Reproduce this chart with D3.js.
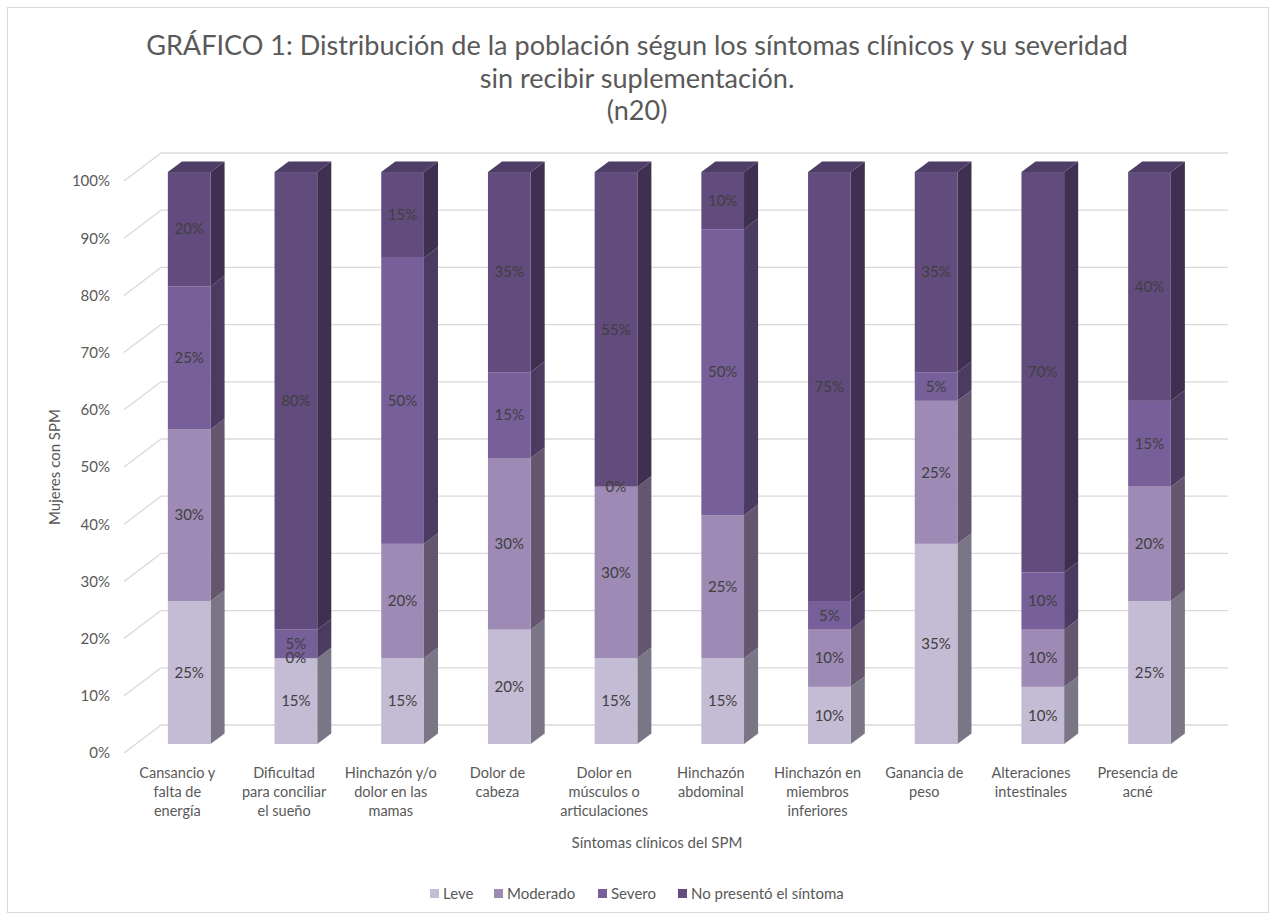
<!DOCTYPE html>
<html>
<head>
<meta charset="utf-8">
<script src="https://cdn.jsdelivr.net/npm/d3@7"></script>
<style>
  html, body { margin: 0; padding: 0; background: #ffffff; }
  svg { display: block; }
  text { font-family: "Lato", "Liberation Sans", sans-serif; }
</style>
</head>
<body>
<svg id="chart" width="1273" height="916"></svg>
<script>
// ---------------- DATA ----------------
const titleLines = [
  "GRÁFICO 1: Distribución de la población ségun los síntomas clínicos y su severidad",
  "sin recibir suplementación.",
  "(n20)"
];
const categories = [
  "Cansancio y\nfalta de\nenergía",
  "Dificultad\npara conciliar\nel sueño",
  "Hinchazón y/o\ndolor en las\nmamas",
  "Dolor de\ncabeza",
  "Dolor en\nmúsculos o\narticulaciones",
  "Hinchazón\nabdominal",
  "Hinchazón en\nmiembros\ninferiores",
  "Ganancia de\npeso",
  "Alteraciones\nintestinales",
  "Presencia de\nacné"
];
const seriesNames = ["Leve", "Moderado", "Severo", "No presentó el síntoma"];
const leve       = [0.25, 0.15, 0.15, 0.20, 0.15, 0.15, 0.10, 0.35, 0.10, 0.25];
const moderado   = [0.30, 0.00, 0.20, 0.30, 0.30, 0.25, 0.10, 0.25, 0.10, 0.20];
const severo     = [0.25, 0.05, 0.50, 0.15, 0.00, 0.50, 0.05, 0.05, 0.10, 0.15];
const noPresento = [0.20, 0.80, 0.15, 0.35, 0.55, 0.10, 0.75, 0.35, 0.70, 0.40];
const yTicks = [0, 0.1, 0.2, 0.3, 0.4, 0.5, 0.6, 0.7, 0.8, 0.9, 1.0];
const xAxisTitle = "Síntomas clínicos del SPM";
const yAxisTitle = "Mujeres con SPM";

// ---------------- STYLE ----------------
const frontColors = ["#C4BBD5", "#9D8AB5", "#775F9A", "#624B7D"];
const sideColors  = ["#7B7686", "#64566F", "#4B3B61", "#3F3052"];
const topColor    = "#4E3D66";
const textGrey = "#595959";
const labelGrey = "#404040";
const gridColor = "#D9D9D9";

const svg = d3.select("#chart");
const W = 1273, H = 916;

// border
svg.append("rect").attr("x", 7.5).attr("y", 7.5).attr("width", 1261).attr("height", 905)
  .attr("fill", "#fff").attr("stroke", "#D9D9D9").attr("stroke-width", 1);

// 3D geometry (front plane + depth offset)
const DX = 37, DY = -28;
const Z0 = 0.32, Z1 = 0.70;
const barFrac = 0.40;

const x = d3.scaleBand().domain(categories).range([124, 1191]).paddingInner(0).paddingOuter(0);
const y = d3.scaleLinear().domain([0, 1]).range([753, 181]);

const series = [leve, moderado, severo, noPresento];
const stackData = categories.map((c, i) => {
  const o = { cat: c };
  seriesNames.forEach((s, k) => o[s] = series[k][i]);
  return o;
});
const stacked = d3.stack().keys(seriesNames)(stackData);

// ---- gridlines (floor diagonal + back wall line)
const grid = svg.append("g");
yTicks.forEach(t => {
  const yf = y(t);
  grid.append("line")
    .attr("x1", x.range()[0]).attr("y1", yf)
    .attr("x2", x.range()[0] + DX).attr("y2", yf + DY)
    .attr("stroke", gridColor).attr("stroke-width", 1.3);
  grid.append("line")
    .attr("x1", x.range()[0] + DX).attr("y1", yf + DY)
    .attr("x2", x.range()[1] + DX).attr("y2", yf + DY)
    .attr("stroke", gridColor).attr("stroke-width", 1.3);
});

// ---- y axis labels
const yAxis = d3.axisLeft(y).tickValues(yTicks).tickFormat(d3.format(".0%")).tickSize(0).tickPadding(14);
const yg = svg.append("g").attr("transform", `translate(${x.range()[0]},0)`).call(yAxis);
yg.select(".domain").remove();
yg.selectAll("text").attr("fill", textGrey).style("font-size", "15px").style("font-family", "Lato, 'Liberation Sans', sans-serif");

// ---- bars
const bw = x.bandwidth() * barFrac;
const ox = Z0 * DX, oy = Z0 * DY;            // front face offset
const ddx = (Z1 - Z0) * DX, ddy = (Z1 - Z0) * DY; // bar depth
const bars = svg.append("g");
const labels = [];
categories.forEach((c, i) => {
  const xl = x(c) + x.bandwidth() / 2 - bw / 2 + ox;
  const xr = xl + bw;
  stacked.forEach((layer, k) => {
    const d = layer[i];
    const yb = y(d[0]) + oy, yt = y(d[1]) + oy;
    const g = bars.append("g");
    // side face
    g.append("polygon")
      .attr("points", [[xr, yb], [xr, yt], [xr + ddx, yt + ddy], [xr + ddx, yb + ddy]].map(p => p.join(",")).join(" "))
      .attr("fill", sideColors[k]);
    // front face
    g.append("rect").attr("x", xl).attr("y", yt).attr("width", bw).attr("height", Math.max(0, yb - yt))
      .attr("fill", frontColors[k]);
    labels.push({ x: (xl + xr) / 2, y: (yb + yt) / 2, v: d.data[seriesNames[k]] });
  });
  // top face
  const last = stacked[stacked.length - 1][i];
  const yt = y(last[1]) + oy;
  bars.append("polygon")
    .attr("points", [[xl, yt], [xr, yt], [xr + ddx, yt + ddy], [xl + ddx, yt + ddy]].map(p => p.join(",")).join(" "))
    .attr("fill", topColor);
});

// ---- data labels
svg.append("g").selectAll("text").data(labels).join("text")
  .attr("x", d => d.x).attr("y", d => d.y).attr("dy", "0.35em")
  .attr("text-anchor", "middle").attr("fill", labelGrey)
  .style("font-size", "15px")
  .text(d => d3.format(".0%")(d.v));

// ---- x category labels
const xl = svg.append("g");
categories.forEach(c => {
  const lines = c.split("\n");
  const t = xl.append("text").attr("text-anchor", "middle").attr("fill", textGrey).style("font-size", "14.5px");
  lines.forEach((ln, j) => {
    t.append("tspan").attr("x", x(c) + x.bandwidth() / 2).attr("y", 778 + j * 19).text(ln);
  });
});

// ---- axis titles
svg.append("text").attr("x", 657).attr("y", 848).attr("text-anchor", "middle")
  .attr("fill", textGrey).style("font-size", "15px").text(xAxisTitle);
svg.append("text").attr("transform", "translate(60,467) rotate(-90)").attr("text-anchor", "middle")
  .attr("fill", textGrey).style("font-size", "15px").text(yAxisTitle);

// ---- title
const tg = svg.append("g");
const titleY = [55, 88, 120];
titleLines.forEach((ln, j) => {
  tg.append("text").attr("x", 637).attr("y", titleY[j]).attr("text-anchor", "middle")
    .attr("fill", textGrey).style("font-size", "24px").text(ln);
});
// fit first title line width to ~982px
(function () {
  const t = tg.select("text").node();
  const w = t.getComputedTextLength();
  const fs = 24 * 982 / w;
  tg.selectAll("text").style("font-size", fs + "px");
})();

// ---- legend
const legendX = [430, 494, 598, 678];
const lg = svg.append("g");
seriesNames.forEach((s, k) => {
  lg.append("rect").attr("x", legendX[k]).attr("y", 889).attr("width", 9).attr("height", 9).attr("fill", frontColors[k]);
  lg.append("text").attr("x", legendX[k] + 13).attr("y", 894).attr("dy", "0.35em")
    .attr("fill", textGrey).style("font-size", "15px").text(s);
});
</script>
</body>
</html>
